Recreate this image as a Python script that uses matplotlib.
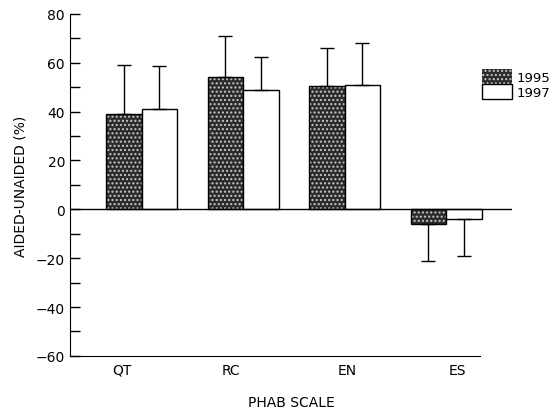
import numpy as np
import matplotlib
matplotlib.use("Agg")
import matplotlib.pyplot as plt

# data
scales = ["QT", "RC", "EN", "ES"]
mean_1995 = [39, 54, 50.5, -6]
mean_1997 = [41, 49, 51, -4]
sd_1995 = [20, 17, 15.5, 15]
sd_1997 = [17.5, 13.5, 17, 15]
years = ["1995", "1997"]

fig = plt.figure(figsize=(5.55, 4.14), dpi=100)
ax = fig.add_axes([0.126, 0.138, 0.797, 0.826])

x = np.arange(len(scales))
w = 0.35

# speckled dark fill for 1995
ax.bar(x, mean_1995, width=w, align="edge", color="#2b2b2b", hatch="....",
       edgecolor="#c8c8c8", linewidth=0)
ax.bar(x, mean_1995, width=w, align="edge", fill=False, edgecolor="black", linewidth=1)
ax.bar(x + w, mean_1997, width=w, align="edge", color="white", edgecolor="black", linewidth=1)

# one-sided error bars (away from zero)
for xs, m, s in [(x + w / 2, mean_1995, sd_1995), (x + 1.5 * w, mean_1997, sd_1997)]:
    m = np.array(m)
    s = np.array(s)
    lower = np.where(m < 0, s, 0)
    upper = np.where(m >= 0, s, 0)
    ax.errorbar(xs, m, yerr=[lower, upper], fmt="none", ecolor="black",
                elinewidth=1, capsize=5, capthick=1)

ax.axhline(0, color="black", linewidth=1)

ax.set_xlim(-0.356, 4.0)
ax.set_ylim(-60, 80)
ax.set_yticks(np.arange(-60, 81, 20))
ax.set_yticks(np.arange(-50, 80, 20), minor=True)
ax.tick_params(axis="y", direction="in", length=7, width=1, labelsize=10)
ax.tick_params(axis="y", which="minor", direction="in", length=7, width=1)
ax.set_xticks([0.16, 1.23, 2.37, 3.46])
ax.set_xticklabels(scales, fontsize=10)
ax.tick_params(axis="x", length=0, pad=5)

for side in ["top", "right"]:
    ax.spines[side].set_visible(False)
ax.spines["bottom"].set_bounds(-0.356, 3.68)

ax.set_ylabel("AIDED-UNAIDED (%)", fontsize=10, labelpad=6)
ax.set_xlabel("PHAB SCALE", fontsize=10, labelpad=13)

# legend drawn as plain boxes at the right
leg = ax.legend(
    handles=[
        plt.Rectangle((0, 0), 1, 1, facecolor="#2b2b2b", hatch="....", edgecolor="#c8c8c8", linewidth=0),
        plt.Rectangle((0, 0), 1, 1, facecolor="white", edgecolor="black", linewidth=1),
    ],
    labels=years, loc="upper left", bbox_to_anchor=(0.932, 0.839), frameon=False,
    fontsize=9.5, handlelength=2.25, handleheight=1.4, handletextpad=0.35, labelspacing=0.0,
    borderaxespad=0, borderpad=0,
)

fig.savefig("out.png", dpi=100)
